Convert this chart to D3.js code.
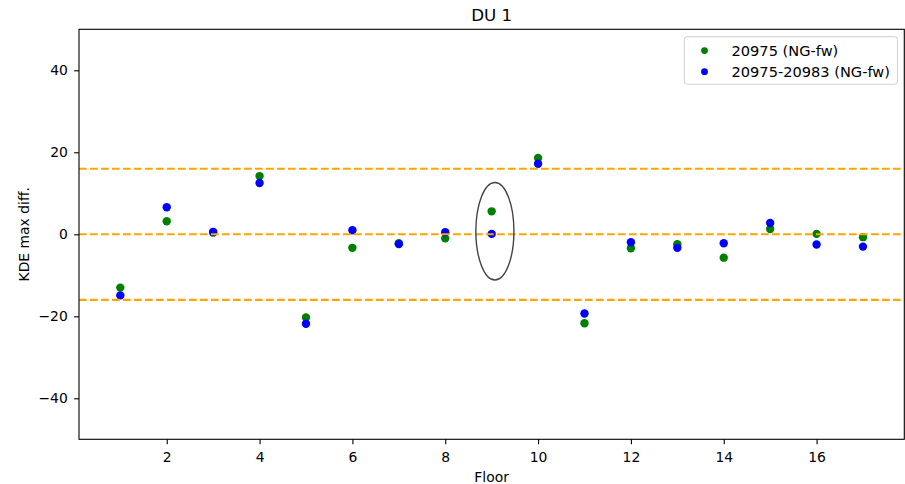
<!DOCTYPE html>
<html>
<head>
<meta charset="utf-8">
<script src="https://cdn.jsdelivr.net/npm/d3@7"></script>
<style>
  html, body { margin: 0; padding: 0; background: #fff; }
  svg { display: block; font-family: "DejaVu Sans", sans-serif; }
</style>
</head>
<body>
<svg id="chart" width="905" height="484"></svg>
<script>
// ---- data ----
const floors = [1,2,3,4,5,6,7,8,9,10,11,12,13,14,15,16,17];
const seriesGreen = [-13.0, 3.2, 0.4, 14.2, -20.3, -3.3, -2.2, -1.0, 5.6, 18.6, -21.7, -3.4, -2.4, -5.7, 1.3, 0.1, -0.7];
const seriesBlue  = [-14.9, 6.6, 0.6, 12.5, -21.8, 1.0, -2.4, 0.5, 0.1, 17.2, -19.3, -1.95, -3.3, -2.2, 2.75, -2.5, -3.0];
const seriesNames = ["20975 (NG-fw)", "20975-20983 (NG-fw)"];
const seriesColors = ["green", "blue"];
const refLines = [16, 0, -16];
const xTicks = [2,4,6,8,10,12,14,16];
const yTicks = [-40,-20,0,20,40];
const xDomain = [0.11, 17.89];
const yDomain = [-50, 50];
const ellipse = { cx: 9.07, cy: 0.75, w: 0.82, h: 23.8 };
const titleText = "DU 1";
const xLabel = "Floor";
const yLabel = "KDE max diff.";

// ---- layout ----
const svg = d3.select("#chart");
const L = 79, R = 904.3, T = 29.3, B = 439.3;
const x = d3.scaleLinear().domain(xDomain).range([L, R]);
const y = d3.scaleLinear().domain(yDomain).range([B, T]);
const fs = 13.9;

// points (green first, blue on top)
const series = [seriesGreen, seriesBlue];
series.forEach((vals, i) => {
  svg.append("g").selectAll("circle")
    .data(floors.map((f, j) => [f, vals[j]]))
    .join("circle")
    .attr("cx", d => x(d[0]))
    .attr("cy", d => y(d[1]))
    .attr("r", 4.2)
    .attr("fill", seriesColors[i]);
});

// reference dashed lines (drawn above points)
svg.append("g").selectAll("line")
  .data(refLines)
  .join("line")
  .attr("x1", L).attr("x2", R)
  .attr("y1", d => y(d)).attr("y2", d => y(d))
  .attr("stroke", "orange")
  .attr("stroke-width", 2.1)
  .attr("stroke-dasharray", "7.7,3.3");

// ellipse
svg.append("ellipse")
  .attr("cx", x(ellipse.cx))
  .attr("cy", y(ellipse.cy))
  .attr("rx", Math.abs(x(ellipse.cx + ellipse.w / 2) - x(ellipse.cx)))
  .attr("ry", Math.abs(y(ellipse.cy + ellipse.h / 2) - y(ellipse.cy)))
  .attr("fill", "none")
  .attr("stroke", "#444")
  .attr("stroke-width", 1.4);

// axes
const xAxis = d3.axisBottom(x).tickValues(xTicks).tickSize(4.9).tickPadding(8).tickFormat(d3.format("d"));
const yAxis = d3.axisLeft(y).tickValues(yTicks).tickSize(4.9).tickPadding(6.3).tickFormat(d3.format("d"));

const gx = svg.append("g").attr("transform", `translate(0,${B})`).call(xAxis);
const gy = svg.append("g").attr("transform", `translate(${L},0)`).call(yAxis);
[gx, gy].forEach(g => {
  g.select(".domain").remove();
  g.selectAll(".tick line").attr("stroke", "#000").attr("stroke-width", 1.1);
  g.selectAll(".tick text").attr("fill", "#000").style("font-size", fs + "px")
    .style("font-family", "DejaVu Sans, sans-serif");
});

// frame
svg.append("rect")
  .attr("x", L).attr("y", T)
  .attr("width", R - L).attr("height", B - T)
  .attr("fill", "none").attr("stroke", "#000").attr("stroke-width", 1.1);

// title & labels
svg.append("text").attr("x", (L + R) / 2).attr("y", 20.7)
  .attr("text-anchor", "middle").style("font-size", "16.7px").text(titleText);
svg.append("text").attr("x", (L + R) / 2).attr("y", 481.5)
  .attr("text-anchor", "middle").style("font-size", fs + "px").text(xLabel);
svg.append("text")
  .attr("transform", `translate(29,${(T + B) / 2}) rotate(-90)`)
  .attr("text-anchor", "middle").style("font-size", fs + "px").text(yLabel);

// legend
const lg = svg.append("g");
lg.append("rect")
  .attr("x", 684.3).attr("y", 36.7).attr("width", 213.2).attr("height", 47.5)
  .attr("rx", 3).attr("fill", "#fff").attr("fill-opacity", 0.8)
  .attr("stroke", "#d0d0d0").attr("stroke-width", 1);
seriesNames.forEach((name, i) => {
  const cy = 50.6 + i * 21.1;
  lg.append("circle").attr("cx", 704.5).attr("cy", cy).attr("r", 3.4).attr("fill", seriesColors[i]);
  lg.append("text").attr("x", 731.5).attr("y", cy + 5.3).style("font-size", "14.6px").text(name);
});
</script>
</body>
</html>
